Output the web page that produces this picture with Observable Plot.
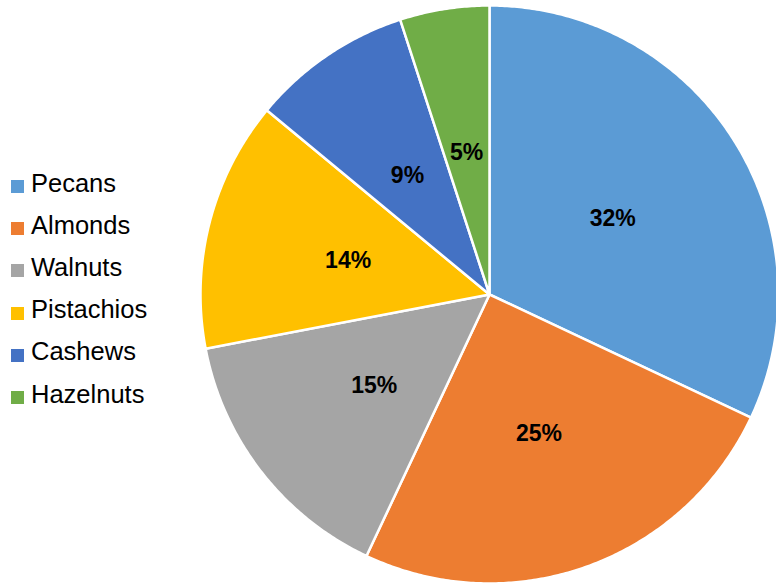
<!DOCTYPE html>
<html>
<head>
<meta charset="utf-8">
<script src="https://cdn.jsdelivr.net/npm/d3@7"></script>
<script src="https://cdn.jsdelivr.net/npm/@observablehq/plot@0.6"></script>
<style>
  html, body { margin: 0; padding: 0; background: #fff; }
  #wrap { position: relative; width: 776px; height: 584px; overflow: hidden; font-family: "Liberation Sans", Arial, sans-serif; }
  #legend { position: absolute; left: 11px; top: 162px; }
  .row { height: 42.2px; display: flex; align-items: center; font-size: 25.5px; color: #000; }
  .sw { width: 13px; height: 13px; margin-right: 7px; margin-top: 7px; }
</style>
</head>
<body>
<div id="wrap"><div id="legend"></div></div>
<script>
const names = ["Pecans", "Almonds", "Walnuts", "Pistachios", "Cashews", "Hazelnuts"];
const values = [32, 25, 15, 14, 9, 5];
const colors = ["#5B9BD5", "#ED7D31", "#A5A5A5", "#FFC000", "#4472C4", "#70AD47"];

const W = 776, H = 584, cx = 489, cy = 294, R = 289;
const total = d3.sum(values);
const pts = [];
const labels = [];
let acc = 0;
names.forEach((name, i) => {
  const a0 = acc / total * 2 * Math.PI;
  acc += values[i];
  const a1 = acc / total * 2 * Math.PI;
  const n = Math.max(2, Math.ceil((a1 - a0) / (Math.PI / 360)));
  pts.push({name, x: 0, y: 0});
  for (let k = 0; k <= n; k++) {
    const a = a0 + (a1 - a0) * k / n;
    pts.push({name, x: Math.sin(a), y: Math.cos(a)});
  }
  pts.push({name, x: 0, y: 0});
  const am = (a0 + a1) / 2, lr = 0.505;
  labels.push({name, value: values[i], x: lr * Math.sin(am), y: lr * Math.cos(am)});
});

const chart = Plot.plot({
  width: W, height: H,
  margin: 0,
  style: {fontFamily: '"Liberation Sans", Arial, sans-serif', background: "transparent"},
  x: {domain: [-cx / R, (W - cx) / R], range: [0, W], axis: null},
  y: {domain: [cy / R, -(H - cy) / R], range: [0, H], axis: null},
  color: {type: "ordinal", domain: names, range: colors},
  marks: [
    Plot.line(pts, {x: "x", y: "y", z: "name", fill: "name", stroke: "white", strokeWidth: 2.5, strokeLinejoin: "round"}),
    Plot.text(labels, {x: "x", y: "y", dy: 2, text: d => d.value + "%", fontWeight: "bold", fontSize: 23, fill: "black"})
  ]
});
document.getElementById("wrap").prepend(chart);

const leg = document.getElementById("legend");
names.forEach((n, i) => {
  const row = document.createElement("div");
  row.className = "row";
  row.innerHTML = `<span class="sw" style="background:${colors[i]}"></span><span>${n}</span>`;
  leg.appendChild(row);
});
</script>
</body>
</html>
